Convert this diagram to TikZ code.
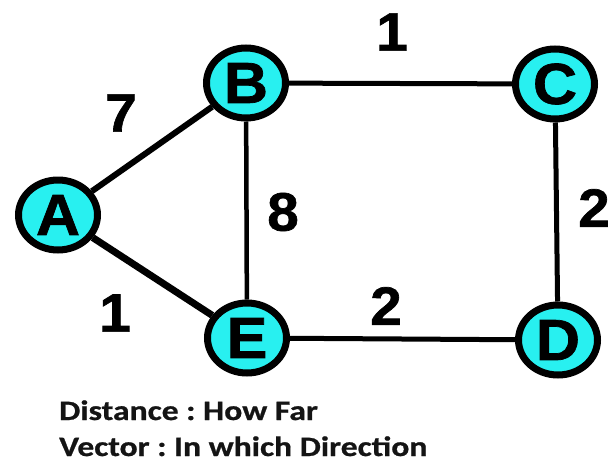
\documentclass[tikz,border=0pt]{standalone}
\usepackage{fontspec}
\usetikzlibrary{shapes.geometric,backgrounds}
\newfontfamily\lblfont[FakeStretch=1.05,FakeBold=1.2]{Liberation Sans}
\newfontfamily\capfont[FakeStretch=1.2,FakeBold=0.8]{Carlito}
\definecolor{nodecyan}{RGB}{40,240,240}
\definecolor{captext}{RGB}{20,20,20}
\tikzset{
  vertex/.style={ellipse, draw=black, line width=7pt, fill=nodecyan,
    minimum width=79pt, minimum height=70pt, inner sep=0pt,
    font=\lblfont\bfseries\fontsize{58}{58}\selectfont},
  weight/.style={inner sep=0pt, font=\lblfont\bfseries\fontsize{54}{54}\selectfont},
  edge/.style={line width=5pt},
  caption/.style={anchor=base west, inner sep=0pt, text=captext,
    font=\capfont\bfseries\fontsize{28}{28}\selectfont\frenchspacing}
}
\begin{document}
\begin{tikzpicture}[x=1pt,y=-1pt]
\useasboundingbox (0,0) rectangle (610,466);
\node[vertex] (A) at (58,215) {A};
\node[vertex] (B) at (246,83) {B};
\node[vertex] (C) at (555,84) {C};
\node[vertex] (D) at (558,340) {D};
\node[vertex] (E) at (247,338) {E};
\begin{scope}[on background layer]
\draw[edge, line width=6pt] (A) -- (B);
\draw[edge, line width=7pt] (A) -- (E);
\draw[edge, line width=4.5pt] (B) -- (E);
\draw[edge] (B) -- (C);
\draw[edge] (C) -- (D);
\draw[edge] (E) -- (D);
\end{scope}
\node[weight] (wab) at (121,113) {7};
\node[weight] (wae) at (115,313) {1};
\node[weight] (wbe) at (283,212) {8};
\node[weight] (wbc) at (392,32) {1};
\node[weight] (wcd) at (594,208) {2};
\node[weight] (wed) at (386,306) {2};
\node[caption] (cap1) at (59,420) {Distance : How Far};
\node[caption] (cap2) at (59,456) {Vector : In which Direction};
\end{tikzpicture}
\end{document}
